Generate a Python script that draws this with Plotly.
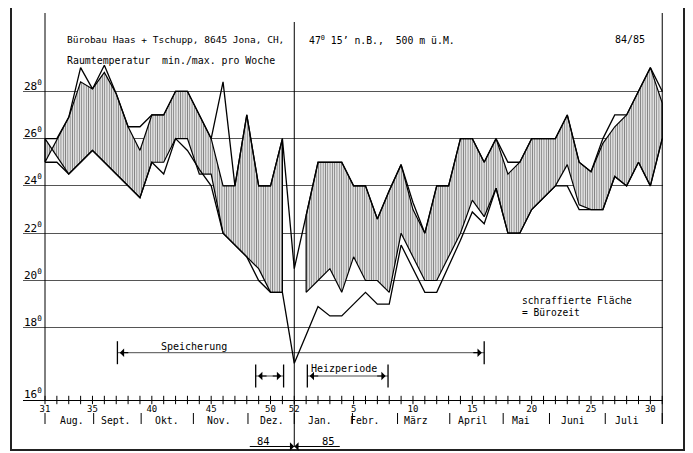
import plotly.graph_objects as go

# ---------------- data ----------------
# calendar weeks 31/1984 ... 52/1984, 1/1985 ... 31/1985
weeks = list(range(31, 53)) + list(range(1, 32))

max_all = [26.0, 26.0, 26.9, 29.0, 28.1, 29.1, 27.9, 26.5, 26.5, 27.0,
           27.0, 28.0, 28.0, 27.0, 26.0, 28.4, 24.0, 27.0, 24.0, 24.0,
           26.0, 20.5, 22.75, 25.0, 25.0, 25.0, 24.0, 24.0, 22.6, 23.8,
           24.9, 23.3, 22.0, 24.0, 24.0, 26.0, 26.0, 25.0, 26.0, 25.0,
           25.0, 26.0, 26.0, 26.0, 27.0, 25.0, 24.6, 26.0, 27.0, 27.0,
           28.0, 29.0, 28.0]
max_office = [25.0, 25.95, 26.9, 28.4, 28.1, 28.8, 27.9, 26.5, 25.5, 27.0,
              27.0, 28.0, 28.0, 27.0, 26.0, 24.0, 24.0, 27.0, 24.0, 24.0,
              26.0, None, 22.75, 25.0, 25.0, 25.0, 24.0, 24.0, 22.6, 23.8,
              24.9, 23.0, 22.0, 24.0, 24.0, 26.0, 26.0, 25.0, 26.0, 24.5,
              25.0, 26.0, 26.0, 26.0, 27.0, 25.0, 24.6, 25.8, 26.5, 27.0,
              28.0, 29.0, 27.5]
min_office = [26.0, 25.25, 24.5, 25.0, 25.5, 25.0, 24.5, 24.0, 23.5, 25.0,
              25.0, 26.0, 26.0, 24.5, 24.5, 22.0, 21.5, 21.0, 20.5, 19.5,
              19.5, None, 19.5, 20.0, 20.5, 19.5, 21.0, 20.0, 20.0, 19.5,
              22.0, 21.0, 20.0, 20.0, 21.0, 22.0, 23.4, 22.7, 23.9, 22.0,
              22.0, 23.0, 23.5, 24.0, 24.9, 23.2, 23.0, 23.0, 24.4, 24.0,
              25.0, 24.0, 26.0]
min_all = [25.0, 25.0, 24.5, 25.0, 25.5, 25.0, 24.5, 24.0, 23.5, 25.0,
           24.5, 26.0, 25.5, 24.7, 24.0, 22.0, 21.5, 21.0, 20.0, 19.5,
           19.5, 16.5, 17.7, 18.9, 18.5, 18.5, 19.0, 19.5, 19.0, 19.0,
           21.5, 20.5, 19.5, 19.5, 20.6, 21.7, 22.9, 22.4, 23.9, 22.0,
           22.0, 23.0, 23.5, 24.0, 24.0, 23.0, 23.0, 23.0, 24.4, 24.0,
           25.0, 24.0, 26.0]

week_tick_labels = ["31", "35", "40", "45", "50", "52", "5", "10", "15", "20", "25", "30"]
months = ["Aug.", "Sept.", "Okt.", "Nov.", "Dez.", "Jan.", "Febr.", "März",
          "April", "Mai", "Juni", "Juli"]
month_centers = [2.3, 6.0, 10.3, 14.7, 19.1, 23.2, 27.0, 31.25, 36.05, 40.1, 44.5, 49.0]
month_bounds = [0, 4.1, 8.1, 12.5, 17.1, 21.0, 25.9, 29.7, 34.1, 38.6, 42.5, 47.2, 52.0]
temp_grid = [18, 20, 22, 24, 26, 28, 30]
temp_labels = [28, 26, 24, 22, 20, 18, 16]

# periods: (label, start week-index, end week-index, label position)
periods = [("Speicherung", 6.1, 37.0, 12.55), ("Heizperiode", 22.1, 28.9, 22.25),
           ("", 17.75, 20.1, None)]

# ---------------- geometry (screen pixels; page has an 8px body margin) ----------------
OFF = 8
SW, SH = 693, 453
W, H = SW - OFF, SH - OFF
S_LEFT, S_RIGHT, S_TOP, S_BOTTOM = 23, 663, 43, 400     # plot area in screen px
ML, MR, MT, MB = S_LEFT - OFF, SW - S_RIGHT, S_TOP - OFF, SH - S_BOTTOM
PW, PH = S_RIGHT - S_LEFT, S_BOTTOM - S_TOP
X0PX, PPU_X = 45.0, 11.87          # screen px of first week, px per week
Y30PX, PPU_Y = 44.0, 47.3 / 2.0    # screen px of 30 deg, px per degree


def t_at(ypx):
    return 30 - (ypx - Y30PX) / PPU_Y


xr = [(S_LEFT - X0PX) / PPU_X, (S_RIGHT - X0PX) / PPU_X]
yr = [t_at(S_BOTTOM), t_at(S_TOP)]


def px(x):
    return (x - S_LEFT) / PW


def py(y):
    return (S_BOTTOM - y) / PH


FONT = "DejaVu Sans Mono"
idx = list(range(len(weeks)))

fig = go.Figure()

# hatched office-hours band (split where there is no office data)
segs, cur = [], []
for i in idx:
    if max_office[i] is None:
        if cur:
            segs.append(cur)
        cur = []
    else:
        cur.append(i)
if cur:
    segs.append(cur)
for seg in segs:
    xs = seg + seg[::-1] + [seg[0]]
    ys = [max_office[i] for i in seg] + [min_office[i] for i in seg[::-1]] + [max_office[seg[0]]]
    fig.add_trace(go.Scatter(
        x=xs, y=ys, mode="lines", fill="toself", fillcolor="rgba(0,0,0,0)",
        fillpattern=dict(shape="|", size=2.3, solidity=0.5, fgcolor="black", bgcolor="white"),
        line=dict(color="black", width=1.2), hoverinfo="skip", showlegend=False))

for series in (max_all, min_all):
    fig.add_trace(go.Scatter(x=idx, y=series, mode="lines",
                             line=dict(color="black", width=1.3),
                             hoverinfo="skip", showlegend=False))

# week tick marks on the axis
fig.add_trace(go.Scatter(x=idx, y=[yr[0]] * len(idx), mode="markers",
                         marker=dict(symbol="line-ns", size=6, line=dict(width=1, color="black")),
                         cliponaxis=False, hoverinfo="skip", showlegend=False))

shapes = []
# outer frame
shapes.append(dict(type="rect", xref="paper", yref="paper", x0=px(11), x1=px(684),
                   y0=py(450), y1=py(6), line=dict(color="#222", width=2)))
# vertical lines: first week, week 52, last week
shapes.append(dict(type="line", xref="x", yref="paper", x0=0, x1=0, y0=py(400), y1=py(13),
                   line=dict(color="black", width=1)))
shapes.append(dict(type="line", xref="x", yref="paper", x0=21, x1=21, y0=py(447), y1=py(22),
                   line=dict(color="black", width=1)))
shapes.append(dict(type="line", xref="x", yref="paper", x0=52, x1=52, y0=py(424), y1=py(13),
                   line=dict(color="black", width=1)))
# month separators
for b in month_bounds:
    shapes.append(dict(type="line", xref="x", yref="paper", x0=b, x1=b, y0=py(424), y1=py(413),
                       line=dict(color="black", width=1)))

annotations = []


def txt(text, x, y, xref="paper", size=10, xanchor="left", yanchor="middle"):
    annotations.append(dict(text=text, x=x, y=y, xref=xref, yref="paper", showarrow=False,
                            xanchor=xanchor, yanchor=yanchor,
                            font=dict(family=FONT, size=size, color="black")))


def arrow(x_tip, y, dx):
    annotations.append(dict(text="", x=x_tip, y=y, xref="x", yref="paper", ax=dx, ay=0,
                            axref="pixel", ayref="pixel", showarrow=True, arrowhead=1,
                            arrowsize=1.2, arrowwidth=1.2, arrowcolor="black", standoff=0))


# period brackets
levels = {"Speicherung": (352.7, 346), "Heizperiode": (376, 368), "": (376, None)}
for name, a, b, tx in periods:
    yl, yt = levels[name]
    for xb in (a, b):
        shapes.append(dict(type="line", xref="x", yref="paper", x0=xb, x1=xb,
                           y0=py(yl + 11.5), y1=py(yl - 11.5), line=dict(color="black", width=1.3)))
    shapes.append(dict(type="line", xref="x", yref="paper", x0=a, x1=b, y0=py(yl), y1=py(yl),
                       line=dict(color="black", width=0.7)))
    arrow(a + 0.2, py(yl), 10)
    arrow(b - 0.2, py(yl), -10)
    if name == "Speicherung":
        txt(name, tx, py(yt), xref="x", size=10, xanchor="center")
    elif name:
        txt(name, tx, py(yt), xref="x", size=10, xanchor="left")

# 84 / 85 year arrows
arrow(21, py(446.5), -46)
arrow(21, py(446.5), 47)
txt("84", 18.4, py(441), xref="x", size=10.5, xanchor="center")
txt("85", 23.9, py(441), xref="x", size=10.5, xanchor="center")

# header texts
txt("Bürobau Haas + Tschupp, 8645 Jona, CH,", px(65), py(39.5), size=9.5)
txt("47<sup>0</sup> 15’ n.B.,\u00a0\u00a0500 m ü.M.", px(306.5), py(39.5), size=9.8)
txt("84/85", px(613), py(39.5), size=10)
txt("Raumtemperatur\u00a0\u00a0min./max. pro Woche", px(65), py(60.5), size=9.9)

# legend note
txt("schraffierte Fläche", px(520), py(300), size=9.6)
txt("= Bürozeit", px(520), py(312), size=9.6)

# temperature labels
for v in temp_labels:
    ypx = Y30PX + (30 - v) * PPU_Y - 6 if v > 16 else 393
    txt(f"{v}<sup>0</sup>", px(22), py(ypx), size=11)

# month names
for m, c in zip(months, month_centers):
    txt(m, c, py(420), xref="x", size=9.8, xanchor="center")

tickvals = [weeks.index(int(s)) if i < 6 else 21 + int(s) for i, s in enumerate(week_tick_labels)]

fig.update_layout(
    width=W, height=H, margin=dict(l=ML, r=MR, t=MT, b=MB),
    paper_bgcolor="white", plot_bgcolor="white", showlegend=False,
    shapes=shapes, annotations=annotations,
    xaxis=dict(range=xr, showgrid=False, zeroline=False, showline=True, linecolor="black",
               linewidth=1, tickvals=tickvals, ticktext=week_tick_labels, ticks="",
               tickfont=dict(family=FONT, size=9, color="black")),
    yaxis=dict(range=yr, tickvals=temp_grid, showticklabels=False, showgrid=True,
               gridcolor="#555", gridwidth=0.8, zeroline=False, showline=False, ticks=""),
)

fig.write_html("out.html")
